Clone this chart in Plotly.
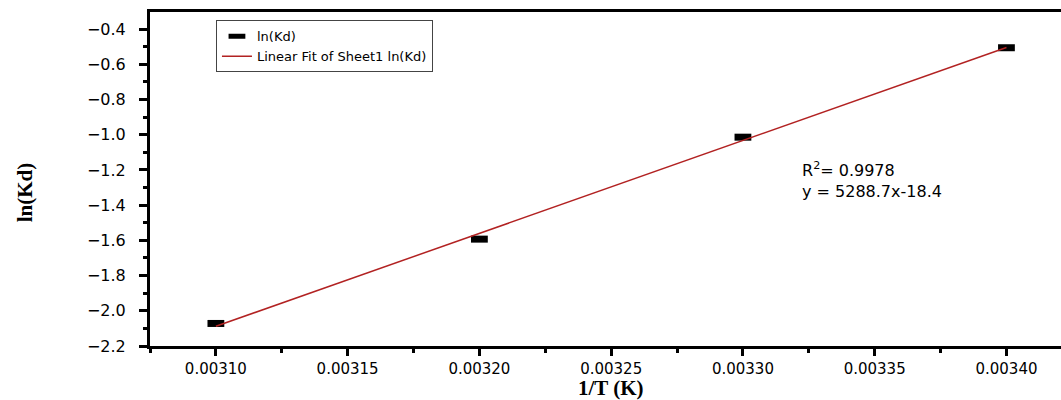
import plotly.graph_objects as go

# Data
inv_T = [0.00310, 0.00320, 0.00330, 0.00340]
ln_kd = [-2.072, -1.593, -1.014, -0.506]

fit_x = [0.00310, 0.00340]
fit_y = [-2.088, -0.505]

series_name = "ln(Kd)"
fit_name = "Linear Fit of Sheet1 ln(Kd)"
eq_text = "R<sup>2</sup>= 0.9978<br>y = 5288.7x-18.4"

x_range = [0.003075, 0.0034207]
y_range = [-2.2, -0.303]

SANS = "DejaVu Sans"
SERIF = "Liberation Serif"

fig = go.Figure()

fig.add_trace(go.Scatter(
    x=inv_T, y=ln_kd, mode="markers", name=series_name,
    marker=dict(symbol="line-ew", size=12, color="black",
                line=dict(color="black", width=7)),
))
fig.add_trace(go.Scatter(
    x=fit_x, y=fit_y, mode="lines", name=fit_name,
    line=dict(color="#b22222", width=1.5),
))

fig.add_annotation(
    text=eq_text, xref="paper", yref="paper", x=0.7135, y=0.565,
    xanchor="left", yanchor="top", align="left", showarrow=False,
    font=dict(family=SANS, size=16, color="black"),
)
fig.add_annotation(
    text="<b>ln(Kd)</b>", xref="paper", yref="paper", x=-0.137, y=0.461,
    xanchor="center", yanchor="middle", textangle=-90, showarrow=False,
    font=dict(family=SERIF, size=21, color="black"),
)
fig.add_annotation(
    text="<b>1/T (K)</b>", xref="paper", yref="paper", x=0.506, y=-0.125,
    xanchor="center", yanchor="middle", showarrow=False,
    font=dict(family=SERIF, size=21, color="black"),
)

fig.update_layout(
    width=1061, height=400,
    margin=dict(l=150, r=0, t=12, b=54),
    paper_bgcolor="white", plot_bgcolor="white",
    showlegend=True,
    legend=dict(
        x=0.0724, y=0.975, xanchor="left", yanchor="top",
        bgcolor="white", bordercolor="#444", borderwidth=1,
        font=dict(family=SANS, size=13, color="black"),
        tracegroupgap=0, itemsizing="trace",
    ),
    font=dict(family=SANS, color="black"),
)

fig.update_xaxes(
    range=x_range, showgrid=False, zeroline=False,
    showline=True, linecolor="black", linewidth=3, mirror=True,
    ticks="outside", ticklen=7, tickwidth=3, tickcolor="black",
    tick0=0.0031, dtick=0.00005, tickformat=".5f",
    tickfont=dict(family=SANS, size=15, color="black"),
    minor=dict(ticks="outside", ticklen=4, tickwidth=3, tickcolor="black",
               dtick=0.000025, tick0=0.0031),
)
fig.update_yaxes(
    range=y_range, showgrid=False, zeroline=False,
    showline=True, linecolor="black", linewidth=3,
    ticks="outside", ticklen=8, tickwidth=3, tickcolor="black",
    tick0=-2.2, dtick=0.2, tickformat=".1f", ticklabelstandoff=10,
    tickfont=dict(family=SANS, size=16, color="black"),
    minor=dict(ticks="outside", ticklen=4, tickwidth=3, tickcolor="black",
               dtick=0.1, tick0=-2.2),
)

fig.write_html("out.html", config={"displayModeBar": False},
               post_script="document.body.style.margin='0';document.body.style.overflow='hidden';")
